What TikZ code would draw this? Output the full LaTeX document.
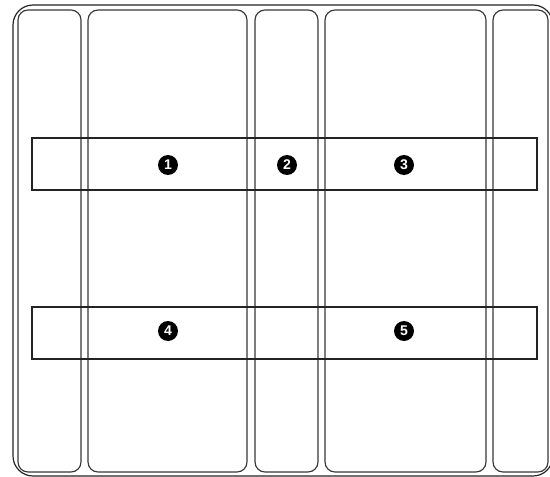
\documentclass[tikz,border=0pt]{standalone}
\usepackage{fontspec}
\setsansfont{Liberation Sans}
\usepackage{tikz}
\usetikzlibrary{positioning}
\definecolor{myline}{RGB}{35,35,35}
\definecolor{mygrid}{RGB}{55,55,55}
\tikzset{
  frame/.style={draw=myline, line width=1pt, rounded corners=0.6cm},
  column/.style={draw=mygrid, line width=1pt, rounded corners=0.3cm},
  band/.style={draw=myline, line width=1pt},
  marker/.style={circle, fill=black, inner sep=0pt, minimum size=0.6cm,
    text=white, font=\sffamily\bfseries\fontsize{12}{12}\selectfont}
}
\begin{document}
\begin{tikzpicture}[x=0.03cm, y=-0.03cm]
  \useasboundingbox (0,0) rectangle (550,477);
  \clip (0,0) rectangle (550,477);
  % outer frame
  \draw[frame] (13,5) rectangle (553,476);
  % columns
  \draw[column] (18,10) rectangle (81,472);
  \draw[column] (88,10) rectangle (247,472);
  \draw[column] (255,10) rectangle (318,472);
  \draw[column] (325,10) rectangle (486,472);
  \draw[column] (493,10) rectangle (548,472);
  % horizontal bands
  \draw[band] (32,138) rectangle (537,190);
  \draw[band] (32,307) rectangle (537,359);
  % numbered markers
  \node[marker] (m1) at (168,165) {1};
  \node[marker] (m2) at (287,165) {2};
  \node[marker] (m3) at (404,165) {3};
  \node[marker] (m4) at (168,331) {4};
  \node[marker] (m5) at (404,331) {5};
\end{tikzpicture}
\end{document}
